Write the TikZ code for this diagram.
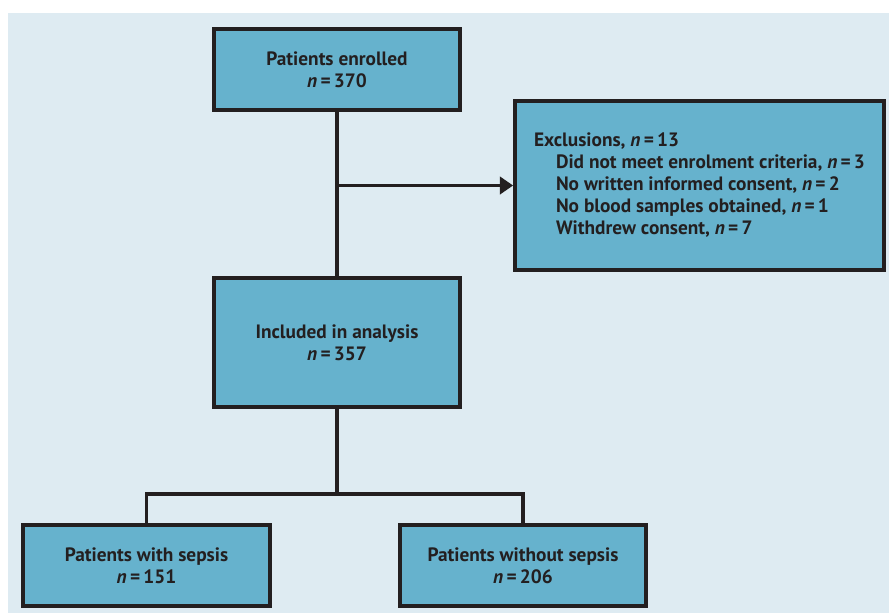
\documentclass[tikz,border=0pt]{standalone}
\usepackage{fontspec}
\setmainfont{PT Sans}
\usetikzlibrary{arrows.meta}
\definecolor{bgblue}{RGB}{222,235,242}
\definecolor{boxblue}{RGB}{102,178,205}
\definecolor{inkc}{RGB}{35,31,32}
\newcommand{\nval}[1]{\textit{n}\,=\,#1}

\begin{document}
\begin{tikzpicture}[
  x=0.75pt, y=-0.75pt,
  box/.style={rectangle, draw=inkc, fill=boxblue, line width=2.8pt, align=center,
    font=\fontsize{14.5}{16.5}\selectfont\bfseries, text=inkc},
  ln/.style={line width=2.7pt, draw=inkc},
  arr/.style={ln, -{Triangle[length=10pt, width=13pt]}}
]

% frame
\useasboundingbox (0,0) rectangle (889,615);
\fill[bgblue] (8,13) rectangle (889,613);

% --- boxes (sizes in pt: 1px = 0.75pt) ---
\node[box, minimum width=184.5pt, minimum height=60.75pt] (enrolled) at (337,69.5)
  {Patients enrolled\\\nval{370}};
\node[box, minimum width=276.75pt, minimum height=126.75pt, align=left] (excl) at (699.5,185.5)
  {Exclusions, \nval{13}\\
   \hspace*{16.5pt}Did not meet enrolment criteria, \nval{3}\\
   \hspace*{16.5pt}No written informed consent, \nval{2}\\
   \hspace*{16.5pt}No blood samples obtained, \nval{1}\\
   \hspace*{16.5pt}Withdrew consent, \nval{7}\hspace*{4pt}};
\node[box, minimum width=184.5pt, minimum height=96.75pt] (included) at (337,342.5)
  {Included in analysis\\\nval{357}};
\node[box, minimum width=185.25pt, minimum height=60.75pt] (sepsis) at (146.5,565.5)
  {Patients with sepsis\\\nval{151}};
\node[box, minimum width=184.5pt, minimum height=60.75pt] (nosepsis) at (523,565.5)
  {Patients without sepsis\\\nval{206}};

% --- connectors ---
\coordinate (split) at (337,185.5);
\coordinate (fork) at (337,494);
\draw[ln] (enrolled) -- (included);
\draw[arr] (split) -- (excl);
\draw[ln] (included) -- (fork);
\draw[ln] (sepsis.north) |- (fork) -| (nosepsis.north);

\end{tikzpicture}
\end{document}
